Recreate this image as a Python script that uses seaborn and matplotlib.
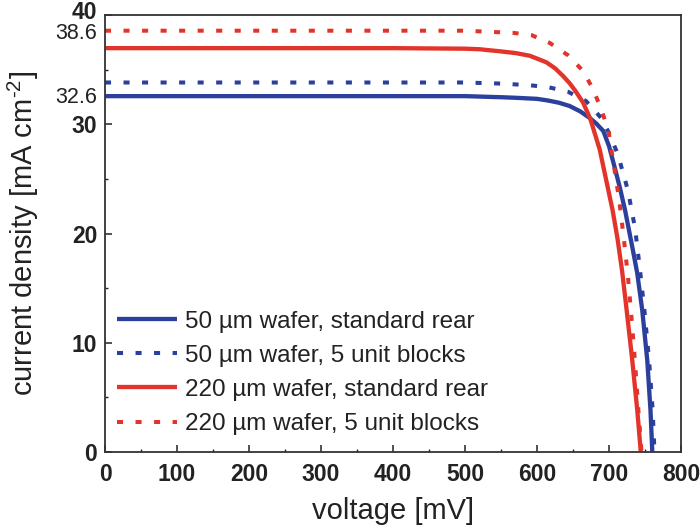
import numpy as np
import pandas as pd
import matplotlib
matplotlib.use("Agg")
import matplotlib.pyplot as plt
from matplotlib.transforms import blended_transform_factory, offset_copy
import seaborn as sns

# ---- data ----
labels = ["50 µm wafer, standard rear", "50 µm wafer, 5 unit blocks",
          "220 µm wafer, standard rear", "220 µm wafer, 5 unit blocks"]

v_50_std = [0, 100, 200, 300, 400, 500, 550, 570, 600, 615, 630, 645, 660, 673, 682, 692, 700, 708, 715, 722, 733, 739, 746, 753, 757.5, 760]
j_50_std = [32.6, 32.6, 32.6, 32.6, 32.6, 32.6, 32.5, 32.45, 32.35, 32.2, 32.0, 31.7, 31.2, 30.6, 30.1, 29.4, 28.0, 26.0, 24.2, 22.2, 18.5, 16.4, 13.0, 8.4, 3.8, 0.0]

v_50_ub = [0, 100, 200, 300, 400, 500, 550, 590, 617, 643, 668, 689, 700, 712, 726, 736, 742, 749, 755.5, 760.5, 763]
j_50_ub = [33.85, 33.85, 33.85, 33.85, 33.85, 33.85, 33.75, 33.6, 33.4, 33.0, 32.15, 30.6, 29.2, 27.3, 24.0, 20.5, 17.2, 13.0, 8.4, 3.8, 0.0]

v_220_std = [0, 100, 200, 300, 400, 500, 520, 550, 570, 590, 613, 625, 636, 645, 653, 664, 674, 687, 696, 705, 712, 718, 724, 732, 739, 744]
j_220_std = [37.0, 37.0, 37.0, 37.0, 37.0, 36.95, 36.9, 36.7, 36.55, 36.3, 35.7, 35.15, 34.45, 33.8, 33.1, 32.0, 30.5, 27.7, 24.9, 22.1, 19.4, 16.6, 13.2, 8.5, 3.9, 0.0]

v_220_ub = [0, 100, 200, 300, 400, 500, 567, 592, 617, 643, 664, 678, 689, 699, 706, 714, 720, 726, 731, 736, 741, 745]
j_220_ub = [38.6, 38.6, 38.6, 38.6, 38.6, 38.6, 38.4, 38.2, 37.5, 36.35, 34.9, 33.2, 31.4, 29.5, 26.5, 23.1, 19.8, 16.2, 12.4, 8.2, 3.5, 0.0]

jsc_marks = [32.6, 38.6]
xticks = [0, 100, 200, 300, 400, 500, 600, 700, 800]
yticks = [0, 10, 20, 30, 40]

series = [(v_50_std, j_50_std), (v_50_ub, j_50_ub), (v_220_std, j_220_std), (v_220_ub, j_220_ub)]

blue = "#2b3f9c"
red = "#e3342b"
colors = [blue, blue, red, red]
solid = [True, False, True, False]

sns.set_theme(style="ticks")
plt.rcParams["font.family"] = ["Liberation Sans", "DejaVu Sans"]
plt.rcParams["mathtext.fontset"] = "custom"
plt.rcParams["mathtext.rm"] = "Liberation Sans"
plt.rcParams["mathtext.it"] = "Liberation Sans"

fig = plt.figure(figsize=(7.0, 5.32), dpi=100)
ax = fig.add_axes([0.150, 0.151, 0.823, 0.820])

for (v, j), lab, c, s in zip(series, labels, colors, solid):
    df = pd.DataFrame({"V": v, "J": j})
    if s:
        sns.lineplot(data=df, x="V", y="J", ax=ax, color=c, lw=3.1, sort=False,
                     label=lab, solid_capstyle="butt", solid_joinstyle="round")
    else:
        sns.lineplot(data=df, x="V", y="J", ax=ax, color=c, lw=2.9, sort=False,
                     label=lab, dashes=False, linestyle=(0, (1.5, 3.1)))

ax.set_xlim(0, 800)
ax.set_ylim(0, 40)
ax.set_xticks(xticks)
# the top label (40) is drawn separately, nudged up as in the reference
ax.set_yticks(yticks, labels=[str(t) if t != yticks[-1] else "" for t in yticks])
ax.set_xticks(np.arange(0, 801, 50), minor=True)
ax.set_yticks(np.arange(0, 41, 5), minor=True)
ax.tick_params(which="both", direction="in", top=False, right=False, colors="#222222")
ax.tick_params(which="major", length=5, width=1.1, labelsize=16.5)
ax.tick_params(axis="x", which="major", pad=8)
ax.tick_params(axis="y", which="major", pad=5.5)
ax.tick_params(which="minor", length=2.5, width=1.0)
for lbl in ax.get_xticklabels() + ax.get_yticklabels():
    lbl.set_fontweight("bold")
    lbl.set_color("#222222")
for sp in ax.spines.values():
    sp.set_linewidth(1.3)
    sp.set_color("#333333")

ax.set_xlabel("voltage [mV]", fontsize=21, color="#222222")
ax.set_ylabel(r"current density [mA cm$^{\text{-}2}$]", fontsize=21, color="#222222")
ax.xaxis.set_label_coords(0.5, -0.104)
ax.yaxis.set_label_coords(-0.111, 0.5)

tr = blended_transform_factory(ax.transAxes, ax.transData)
ax.text(-0.0132, yticks[-1], str(yticks[-1]), transform=offset_copy(tr, fig=fig, x=0, y=3, units="dots"),
        ha="right", va="center", fontsize=16.5, fontweight="bold", color="#222222")
ax.text(-0.0144, jsc_marks[0] - 0.1, f"{jsc_marks[0]:.1f}", transform=tr, ha="right", va="center",
        fontsize=15.5, color="#222222")
ax.text(-0.0144, jsc_marks[1], f"{jsc_marks[1]:.1f}", transform=offset_copy(tr, fig=fig, x=0, y=-2.5, units="dots"),
        ha="right", va="center", fontsize=15.5, color="#222222")

leg = ax.legend(loc="lower left", bbox_to_anchor=(0.0118, 0.027), frameon=False,
                fontsize=17.5, handlelength=2.5, handletextpad=0.33,
                labelspacing=0.5, borderpad=0.2, borderaxespad=0)
for t in leg.get_texts():
    t.set_color("#222222")

fig.savefig("out.png", dpi=100)
